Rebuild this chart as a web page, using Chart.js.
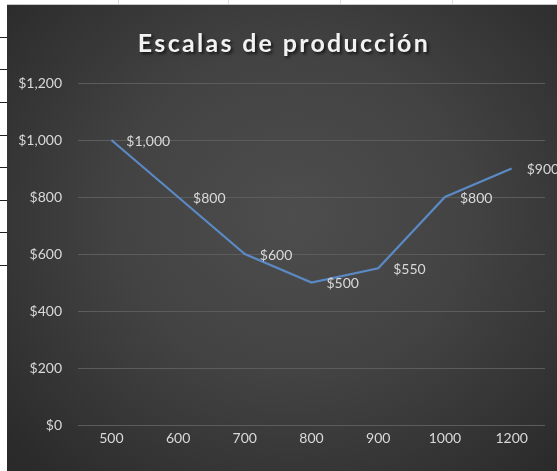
<!DOCTYPE html>
<html>
<head>
<meta charset="utf-8">
<script src="https://cdn.jsdelivr.net/npm/chart.js@4.4.1/dist/chart.umd.min.js"></script>
<style>
  html, body { margin: 0; padding: 0; background: #fff; }
  body { width: 557px; height: 471px; position: relative; overflow: hidden; }
  .celda-h { position: absolute; left: 0; width: 7px; height: 1px; background: #222; }
  .celda-v { position: absolute; top: 0; width: 1px; height: 4px; background: #ddd; }
  #marco {
    position: absolute; left: 7px; top: 4px; width: 550px; height: 467px;
    background: radial-gradient(ellipse 70% 75% at 52% 45%, #4d4d4d 0%, #434343 45%, #2a2a2a 100%);
    border-top: 1px solid #c8c8c8;
  }
</style>
</head>
<body>
<!-- restos de la hoja de calculo alrededor del grafico -->
<div class="celda-h" style="top:37px"></div>
<div class="celda-h" style="top:69px"></div>
<div class="celda-h" style="top:102px"></div>
<div class="celda-h" style="top:135px"></div>
<div class="celda-h" style="top:167px"></div>
<div class="celda-h" style="top:200px"></div>
<div class="celda-h" style="top:232px"></div>
<div class="celda-h" style="top:265px"></div>
<div class="celda-v" style="left:118px"></div>
<div class="celda-v" style="left:228px"></div>
<div class="celda-v" style="left:340px"></div>
<div class="celda-v" style="left:452px"></div>

<div id="marco"><canvas id="graficoProduccion" width="550" height="467"></canvas></div>

<script>
// Datos del grafico
const unidades = ["500", "600", "700", "800", "900", "1000", "1200"];
const costos = [1000, 800, 600, 500, 550, 800, 900];
const titulo = "Escalas de producción";

const colorTexto = "#d9d9d9";

// formato de moneda
function moneda(v) {
  return "$" + Number(v).toLocaleString("en-US");
}

// Titulo con espaciado y sombra (como en Excel)
const pluginTitulo = {
  id: "tituloExcel",
  afterDraw(chart) {
    const ctx = chart.ctx;
    ctx.save();
    ctx.font = "bold 25px Lato";
    ctx.letterSpacing = "2.3px";
    ctx.fillStyle = "#f2f2f2";
    ctx.textAlign = "center";
    ctx.textBaseline = "middle";
    ctx.shadowColor = "rgba(0,0,0,0.65)";
    ctx.shadowOffsetX = 2;
    ctx.shadowOffsetY = 2;
    ctx.shadowBlur = 3;
    ctx.fillText(titulo, chart.width / 2 + 2, 39);
    ctx.restore();
  }
};

// Etiquetas de datos a la derecha de cada punto
const pluginEtiquetas = {
  id: "etiquetasDatos",
  afterDatasetsDraw(chart) {
    const ctx = chart.ctx;
    const meta = chart.getDatasetMeta(0);
    ctx.save();
    ctx.font = "14px Lato";
    ctx.fillStyle = colorTexto;
    ctx.textAlign = "left";
    ctx.textBaseline = "middle";
    meta.data.forEach((punto, i) => {
      ctx.fillText(moneda(chart.data.datasets[0].data[i]), punto.x + 15, punto.y + 1);
    });
    ctx.restore();
  }
};

const ctx = document.getElementById("graficoProduccion").getContext("2d");

new Chart(ctx, {
  type: "line",
  data: {
    labels: unidades,
    datasets: [
      {
        label: "Costo",
        data: costos,
        borderColor: "#5a89c4",
        borderWidth: 2.25,
        pointRadius: 0,
        tension: 0,
        fill: false,
      },
    ],
  },
  options: {
    responsive: false,
    animation: false,
    layout: { padding: { top: 78, right: 12, left: 0, bottom: 0 } },
    plugins: {
      legend: { display: false },
      title: { display: false },
      tooltip: { enabled: false },
    },
    scales: {
      x: {
        offset: true,
        grid: { display: false, drawTicks: false },
        border: { display: false },
        ticks: { color: colorTexto, font: { family: "Lato", size: 14 }, padding: 5, maxRotation: 0 },
        afterFit(escala) { escala.height = 47; },
      },
      y: {
        min: 0,
        max: 1200,
        grid: { color: "#5c5c5c", lineWidth: 1, drawTicks: false },
        border: { display: false },
        ticks: {
          stepSize: 200,
          color: colorTexto,
          font: { family: "Lato", size: 14 },
          padding: 16,
          callback: (v) => moneda(v),
        },
        afterFit(escala) { escala.width = 71; },
      },
    },
  },
  plugins: [pluginTitulo, pluginEtiquetas],
});
</script>
</body>
</html>
